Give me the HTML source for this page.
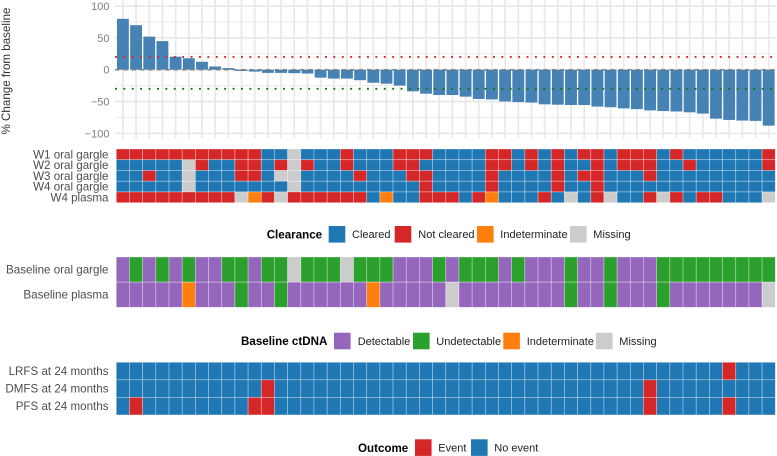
<!DOCTYPE html>
<html lang="en">
<head>
<meta charset="utf-8">
<title>Waterfall chart with clearance heatmaps</title>
<style>
html,body{margin:0;padding:0;background:#fff;width:777px;height:456px;overflow:hidden}
svg{display:block;font-family:"Liberation Sans",Arial,sans-serif}
.lab{font-size:11.6px;fill:#4d4d4d;text-anchor:end}
.tick{font-size:11px;fill:#7f7f7f;text-anchor:end}
.leg{font-size:11px;fill:#222}
.ttl{font-size:11.6px;font-weight:bold;fill:#000}
</style>
</head>
<body>
<svg id="chart" width="777" height="456" viewBox="0 0 777 456" xmlns="http://www.w3.org/2000/svg">
  <g id="grid"></g>
  <g id="bars"></g>
  <g id="refs"></g>
  <g id="ticks"></g>
  <text transform="translate(10,71) rotate(-90)" text-anchor="middle" font-size="11.6" fill="#333">% Change from baseline</text>
  <g id="hm1"></g>
  <g id="hm2"></g>
  <g id="hm3"></g>

  <g>
    <text class="ttl" x="266.7" y="238.5">Clearance</text>
    <rect x="328.7" y="226" width="16.6" height="16.6" fill="#1f77b4"/>
    <text class="leg" x="352" y="238">Cleared</text>
    <rect x="394.7" y="226" width="16.6" height="16.6" fill="#d62728"/>
    <text class="leg" x="418.3" y="238">Not cleared</text>
    <rect x="477" y="226" width="16.6" height="16.6" fill="#ff7f0e"/>
    <text class="leg" x="500.3" y="238">Indeterminate</text>
    <rect x="570" y="226" width="16.6" height="16.6" fill="#cccccc"/>
    <text class="leg" x="593.3" y="238">Missing</text>
  </g>

  <g>
    <text class="ttl" x="241" y="345">Baseline ctDNA</text>
    <rect x="334" y="332.7" width="16.6" height="16.6" fill="#9467bd"/>
    <text class="leg" x="357.7" y="345">Detectable</text>
    <rect x="413" y="332.7" width="16.6" height="16.6" fill="#2ca02c"/>
    <text class="leg" x="436.3" y="345">Undetectable</text>
    <rect x="503.3" y="332.7" width="16.6" height="16.6" fill="#ff7f0e"/>
    <text class="leg" x="526.7" y="345">Indeterminate</text>
    <rect x="596" y="332.7" width="16.6" height="16.6" fill="#cccccc"/>
    <text class="leg" x="619.3" y="345">Missing</text>
  </g>

  <g>
    <text class="ttl" x="358" y="452">Outcome</text>
    <rect x="415" y="439.3" width="16.6" height="16.6" fill="#d62728"/>
    <text class="leg" x="438.3" y="451.5">Event</text>
    <rect x="471" y="439.3" width="16.6" height="16.6" fill="#1f77b4"/>
    <text class="leg" x="494.3" y="451.5">No event</text>
  </g>
</svg>
<script>
// ---- data ----
var changeValues = [80,70,52,45,20.5,18,12.5,5,2.5,-2,
  -3,-5,-5,-5.5,-6,-12.5,-14,-14,-16.5,-20.5,
  -22,-25,-34,-37.7,-39.8,-39.8,-42.4,-46,-46.7,-50,
  -51,-51.7,-54.4,-55,-55.5,-55.5,-58,-59,-60.8,-62,
  -64,-65,-65.7,-67,-69,-77,-79,-80,-80.5,-88];
var yTickValues = [100,50,0,-50,-100];
var yMinorValues = [75,25,-25,-75];
var refUpper = 20;
var refLower = -30;

var clearanceRows = ["W1 oral gargle","W2 oral gargle","W3 oral gargle","W4 oral gargle","W4 plasma"];
var clearanceW1 = "RRRRRRRRRR"+"RCCMCCCRCC"+"CRRRCCCCRR"+"CRCRCRRCRR"+"RCRCCCCCCR";
var clearanceW2 = "CCCCCMRCCR"+"RCRMRCCRCC"+"CRRCCCCCRR"+"CRCRCCRCRR"+"RCCRCCCCCR";
var clearanceW3 = "CCRCCMCCCR"+"RCMMCCCCRC"+"CCRRCCCCRC"+"CCCRCRRCCC"+"RCCCCCCCCC";
var clearanceW4 = "CCCCCMCCCC"+"CCCMCCCCCC"+"CCCRCCCCRC"+"CCCRCCRCCC"+"CCCCCCCCCC";
var clearancePlasma = "RRRRRRRRRM"+"IRMRRRRRRC"+"ICCRRRCRIC"+"CCRCMCRMCC"+"RMRCRRCCCM";

var baselineRows = ["Baseline oral gargle","Baseline plasma"];
var baselineOral = "PGPGPGPPGG"+"PGGMGGGMGG"+"GPPPGPGGGP"+"GPPPGPPGPP"+"PGGGGGGGGG";
var baselinePlasma = "PPPPPIPPPG"+"PPGPPPPPPI"+"PPPPPMPPPP"+"PPPPGPPGPP"+"PGPPPPPPPM";

var outcomeRows = ["LRFS at 24 months","DMFS at 24 months","PFS at 24 months"];
var outcomeLRFS = "NNNNNNNNNN"+"NNNNNNNNNN"+"NNNNNNNNNN"+"NNNNNNNNNN"+"NNNNNNENNN";
var outcomeDMFS = "NNNNNNNNNN"+"NENNNNNNNN"+"NNNNNNNNNN"+"NNNNNNNNNN"+"ENNNNNNNNN";
var outcomePFS  = "NENNNNNNNN"+"EENNNNNNNN"+"NNNNNNNNNN"+"NNNNNNNNNN"+"ENNNNNENNN";

// ---- scales ----
var NS = "http://www.w3.org/2000/svg";
var colLeft = 116.3, colWidth = 13.18;
function xLeft(i){ return colLeft + i * colWidth; }
function xCenter(i){ return xLeft(i) + colWidth / 2; }
function yScale(v){ return 69.7 - v * 0.636; }
var palette = {C:"#1f77b4",R:"#d62728",I:"#ff7f0e",M:"#cccccc",P:"#9467bd",G:"#2ca02c",E:"#d62728",N:"#1f77b4"};

function make(tag, parent, attrs){
  var el = document.createElementNS(NS, tag);
  for (var k in attrs) el.setAttribute(k, attrs[k]);
  parent.appendChild(el);
  return el;
}

var grid = document.getElementById("grid");
var barsG = document.getElementById("bars");
var refs = document.getElementById("refs");
var ticks = document.getElementById("ticks");

// grid lines
yMinorValues.forEach(function(v){
  var l = make("line", grid, {x1:115, x2:776, y1:yScale(v), y2:yScale(v), stroke:"#ebebeb", "stroke-width":1});
  
  
});
yTickValues.forEach(function(v){
  var l = make("line", grid, {x1:115, x2:776, y1:yScale(v), y2:yScale(v), stroke:"#e8e8e8", "stroke-width":1.7});
  
  
  var t = make("text", ticks, {"class":"tick", x:109.5, y:yScale(v) + 4});
  
  
  t.textContent = String(v).replace("-", "\u2212");
});
changeValues.forEach(function(v, i){
  var l = make("line", grid, {x1:xCenter(i), x2:xCenter(i), y1:0, y2:138.5, stroke:"#e8e8e8", "stroke-width":1.7});
  
  
});

// bars
changeValues.forEach(function(v, i){
  var y0 = yScale(0), y1 = yScale(v);
  var r = make("rect", barsG, {x:xCenter(i) - 5.93, width:11.86, y:Math.min(y0, y1), height:Math.abs(y1 - y0), fill:"#4682b4"});
  
  
});

// reference lines
var zeroLine = make("line", refs, {x1:115, x2:776, y1:yScale(0), y2:yScale(0), stroke:"#808080", "stroke-width":1.5, "stroke-dasharray":"4.2 4.2"});


var upperLine = make("line", refs, {x1:115, x2:776, y1:yScale(refUpper), y2:yScale(refUpper), stroke:"#d62728", "stroke-width":1.9, "stroke-dasharray":"1.9 6.5"});


var lowerLine = make("line", refs, {x1:115, x2:776, y1:yScale(refLower), y2:yScale(refLower), stroke:"#0f7a0f", "stroke-width":1.9, "stroke-dasharray":"1.9 6.5"});



// heatmaps
function drawHeatmap(groupId, labels, rows, top, rowHeight){
  var g = document.getElementById(groupId);
  rows.forEach(function(row, r){
    var y = top + r * rowHeight;
    var lab = make("text", g, {"class":"lab", x:108.5, y:y + rowHeight / 2 + 4});
    
    
    lab.textContent = labels[r];
    row.split("").forEach(function(code, c){
      var cell = make("rect", g, {x:xLeft(c), y:y, width:colWidth, height:rowHeight, fill:palette[code], stroke:"#ffffff", "stroke-opacity":0.45, "stroke-width":0.7});
      
      
    });
  });
}
drawHeatmap("hm1", clearanceRows, [clearanceW1, clearanceW2, clearanceW3, clearanceW4, clearancePlasma], 149, 10.74);
drawHeatmap("hm2", baselineRows, [baselineOral, baselinePlasma], 257, 25.15);
drawHeatmap("hm3", outcomeRows, [outcomeLRFS, outcomeDMFS, outcomePFS], 362.3, 17.55);
</script>
</body>
</html>
